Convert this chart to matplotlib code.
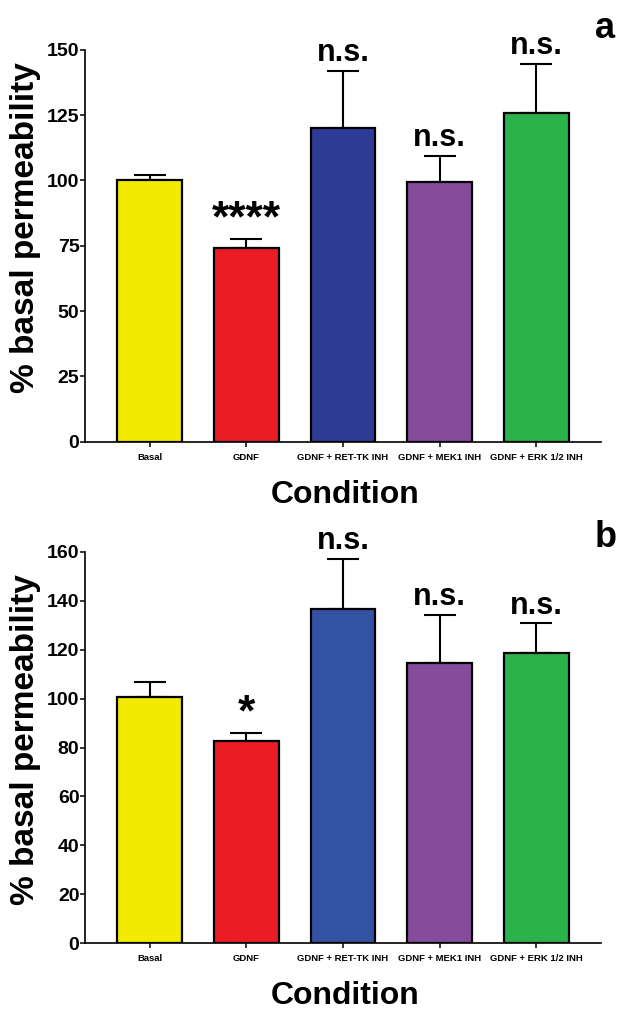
import matplotlib
matplotlib.use("Agg")
import matplotlib.pyplot as plt
import numpy as np

# data
conditions = ["Basal", "GDNF", "GDNF + RET-TK INH", "GDNF + MEK1 INH", "GDNF + ERK 1/2 INH"]

mean_a = [100.0, 74.0, 120.0, 99.5, 126.0]
sem_a = [2.2, 3.6, 22.0, 10.0, 18.6]
sig_a = ["", "****", "n.s.", "n.s.", "n.s."]

mean_b = [100.7, 82.5, 136.7, 114.5, 118.8]
sem_b = [6.0, 3.5, 20.5, 19.7, 12.0]
sig_b = ["", "*", "n.s.", "n.s.", "n.s."]

colors_a = ["#f2ea00", "#ec1c24", "#2e3b96", "#864c9c", "#2bb34b"]
colors_b = ["#f2ea00", "#ec1c24", "#3452a3", "#864c9c", "#2bb34b"]

sans = ["Liberation Sans", "DejaVu Sans"]

fig = plt.figure(figsize=(6.17, 10.11), dpi=100)
W, H = 617, 1011


def px_axes(left, top, right, bottom):
    return fig.add_axes([left / W, 1 - bottom / H, (right - left) / W, (bottom - top) / H])


def draw_panel(ax, means, sems, colors, sigs, ymax, step):
    x = np.arange(len(conditions))
    ax.bar(x, means, width=0.67, color=colors, edgecolor="black", linewidth=1.6, zorder=2)
    ax.errorbar(x, means, yerr=[np.zeros(len(means)), sems], fmt="none", ecolor="black",
                elinewidth=1.5, capsize=11.5, capthick=1.5, zorder=1)
    ax.set_xlim(-0.67, 4.67)
    ax.set_ylim(0, ymax)
    ax.set_yticks(np.arange(0, ymax + 1, step))
    ax.set_xticks(x)
    ax.set_xticklabels(conditions, fontfamily=sans, fontweight="bold", fontsize=6.8)
    for lab in ax.get_yticklabels():
        lab.set_fontfamily(sans)
        lab.set_fontweight("bold")
        lab.set_fontsize(14)
    ax.tick_params(axis="y", length=3.5, width=1.1, pad=0.5)
    ax.tick_params(axis="x", length=3.5, width=1.1, pad=4.5)
    for s in ["top", "right"]:
        ax.spines[s].set_visible(False)
    for s in ["left", "bottom"]:
        ax.spines[s].set_linewidth(1.2)

    # significance marks above each error bar
    pad = ymax * 0.025
    for xi, m, e, s in zip(x, means, sems, sigs):
        if not s:
            continue
        top = m + e
        if s.startswith("*"):
            ax.text(xi, top + pad * 0.8, s, ha="center", va="baseline", fontsize=32,
                    fontfamily=sans, fontweight="bold")
        else:
            ax.text(xi, top + pad, s, ha="center", va="baseline", fontsize=22,
                    fontfamily=sans, fontweight="bold")


ax_a = px_axes(85, 50, 601, 441.5)
draw_panel(ax_a, mean_a, sem_a, colors_a, sig_a, 150, 25)

ax_b = px_axes(85, 552, 601, 943)
draw_panel(ax_b, mean_b, sem_b, colors_b, sig_b, 160, 20)

# axis titles and panel letters
for yc in [228, 740]:
    fig.text(26 / W, 1 - yc / H, "% basal permeability", rotation=90, ha="center", va="center",
             fontsize=24, fontfamily=sans, fontweight="bold")
for yb in [503, 1004]:
    fig.text(345 / W, 1 - yb / H, "Condition", ha="center", va="baseline",
             fontsize=23, fontfamily=sans, fontweight="bold")
fig.text(595 / W, 1 - 38 / H, "a", ha="left", va="baseline", fontsize=26,
         fontfamily=sans, fontweight="bold")
fig.text(595 / W, 1 - 547 / H, "b", ha="left", va="baseline", fontsize=26,
         fontfamily=sans, fontweight="bold")

fig.savefig("out.png", dpi=100)
